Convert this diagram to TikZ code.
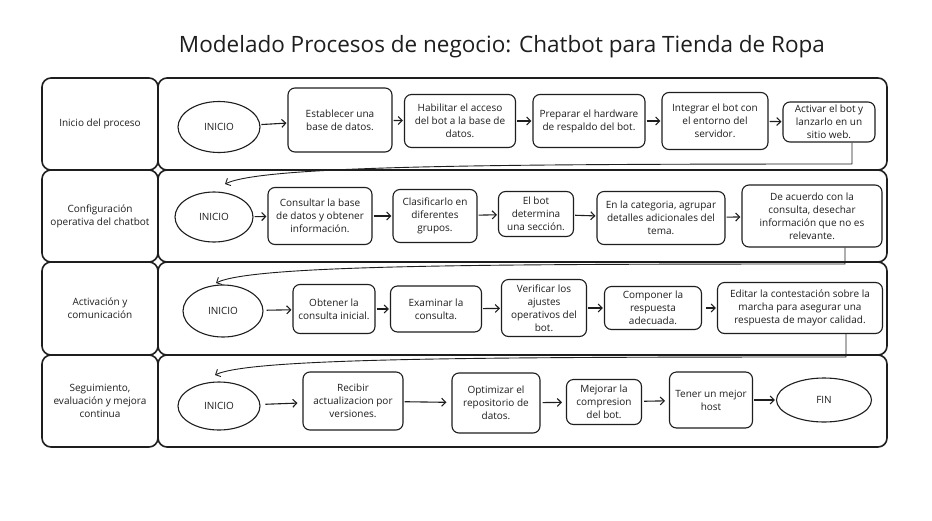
\documentclass[tikz,border=0pt]{standalone}
\usepackage{fontspec}
\setmainfont{Open Sans}
\usetikzlibrary{shapes.geometric,arrows.meta}
\definecolor{ink}{HTML}{1E1E1E}
\newcommand{\nodefont}{\fontsize{10}{13}\selectfont}
\tikzset{
  lanebox/.style={draw=ink, line width=1.6pt, rounded corners=9pt, align=center, inner sep=0pt, font=\nodefont, text=ink},
  stepbox/.style={draw=ink, line width=1.1pt, rounded corners=7pt, align=center, inner sep=0pt, font=\nodefont, text=ink},
  oval/.style={ellipse, draw=ink, line width=1.1pt, inner sep=0pt, font=\nodefont, text=ink},
  arr/.style={draw=ink, line width=1.1pt, -{Straight Barb[length=4pt,width=8pt]}, shorten >=1pt, shorten <=1pt},
  link/.style={draw=ink, line width=0.9pt, -{Straight Barb[length=4pt,width=8pt]}}
}
\begin{document}
\begin{tikzpicture}[x=1pt,y=-1pt]
\useasboundingbox[fill=white] (0,0) rectangle (932,520);
% title
\node[font=\fontsize{22.5}{26}\selectfont, text=ink] (title) at (502,47) {Modelado Procesos de negocio: Chatbot para Tienda de Ropa};
% lanes
\node[lanebox, minimum width=116, minimum height=92] (L1) at (100,124) {Inicio del proceso};
\node[lanebox, minimum width=729, minimum height=92] (R1) at (522.5,124) {};
\node[lanebox, minimum width=116, minimum height=92] (L2) at (100,216) {Configuración\\operativa del chatbot};
\node[lanebox, minimum width=729, minimum height=92] (R2) at (522.5,216) {};
\node[lanebox, minimum width=116, minimum height=93] (L3) at (100,308.5) {Activación y\\comunicación};
\node[lanebox, minimum width=729, minimum height=93] (R3) at (522.5,308.5) {};
\node[lanebox, minimum width=116, minimum height=92] (L4) at (100,401) {Seguimiento,\\evaluación y mejora\\continua};
\node[lanebox, minimum width=729, minimum height=92] (R4) at (522.5,401) {};
% lane 1
\node[oval, minimum width=82, minimum height=51] (i1) at (219,127) {INICIO};
\node[stepbox, minimum width=104, minimum height=64] (a1) at (340,120) {Establecer una\\base de datos.};
\node[stepbox, minimum width=111, minimum height=53] (a2) at (460,121) {Habilitar el acceso\\del bot a la base de\\datos.};
\node[stepbox, minimum width=112, minimum height=53] (a3) at (589,121) {Preparar el hardware\\de respaldo del bot.};
\node[stepbox, minimum width=106, minimum height=57] (a4) at (715,121) {Integrar el bot con\\el entorno del\\servidor.};
\node[stepbox, minimum width=92, minimum height=40] (a5) at (829,122) {Activar el bot y\\lanzarlo en un\\sitio web.};
% lane 2
\node[oval, minimum width=78, minimum height=50] (i2) at (214,217) {INICIO};
\node[stepbox, minimum width=104, minimum height=57] (b1) at (320,216) {Consultar la base\\de datos y obtener\\información.};
\node[stepbox, minimum width=84, minimum height=53] (b2) at (435,216) {Clasificarlo en\\diferentes\\grupos.};
\node[stepbox, minimum width=75, minimum height=45] (b3) at (536,214) {El bot\\determina\\una sección.};
\node[stepbox, minimum width=128, minimum height=53] (b4) at (661,218) {En la categoria, agrupar\\detalles adicionales del\\tema.};
\node[stepbox, minimum width=140, minimum height=62] (b5) at (812,216) {De acuerdo con la\\consulta, desechar\\información que no es\\relevante.};
% lane 3
\node[oval, minimum width=80, minimum height=52] (i3) at (223,311) {INICIO};
\node[stepbox, minimum width=82, minimum height=49] (c1) at (334,309) {Obtener la\\consulta inicial.};
\node[stepbox, minimum width=91, minimum height=46] (c2) at (436,309) {Examinar la\\consulta.};
\node[stepbox, minimum width=85, minimum height=57] (c3) at (544,308) {Verificar los\\ajustes\\operativos del\\bot.};
\node[stepbox, minimum width=97, minimum height=43] (c4) at (653,308) {Componer la\\respuesta\\adecuada.};
\node[stepbox, minimum width=165, minimum height=51] (c5) at (800,308) {Editar la contestación sobre la\\marcha para asegurar una\\respuesta de mayor calidad.};
% lane 4
\node[oval, minimum width=82, minimum height=48] (i4) at (219,406) {INICIO};
\node[stepbox, minimum width=100, minimum height=58] (d1) at (353,401) {Recibir\\actualizacion por\\versiones.};
\node[stepbox, minimum width=88, minimum height=60] (d2) at (496,403) {Optimizar el\\repositorio de\\datos.};
\node[stepbox, minimum width=75, minimum height=45] (d3) at (604,402) {Mejorar la\\compresion\\del bot.};
\node[stepbox, minimum width=83, minimum height=56] (d4) at (711,400) {Tener un mejor\\host};
\node[oval, minimum width=95, minimum height=44] (fin) at (824,400) {FIN};
% arrows lane 1
\draw[arr] (i1) -- (a1);
\draw[arr] (a1) -- (a2);
\draw[arr] (a2) -- (a3);
\draw[arr] (a3) -- (a4);
\draw[arr] (a4) -- (a5);
% arrows lane 2
\draw[arr] (i2) -- (b1);
\draw[arr] (b1) -- (b2);
\draw[arr] (b2) -- (b3);
\draw[arr] (b3) -- (b4);
\draw[arr] (b4) -- (b5);
% arrows lane 3
\draw[arr, shorten <=3pt] (i3) -- (c1);
\draw[arr] (c1) -- (c2);
\draw[arr] (c2) -- (c3);
\draw[arr] (c3) -- (c4);
\draw[arr, shorten <=4pt] (c4) -- (c5);
% arrows lane 4
\draw[arr, shorten <=5pt, shorten >=5pt] (i4) -- (d1);
\draw[arr, shorten >=5pt] (d1) -- (d2);
\draw[arr, shorten <=2pt, shorten >=4pt] (d2) -- (d3);
\draw[arr, shorten <=2pt, shorten >=4pt] (d3) -- (d4);
\draw[arr] (d4) -- (fin);
% lane-to-lane connectors
\coordinate (k1a) at (852,164);
\coordinate (k1b) at (225,184);
\draw[link] (a5.south -| k1a) -- (k1a) .. controls (480,164) and (262,166) .. (k1b);
\coordinate (k2a) at (845,264);
\coordinate (k2b) at (216,283);
\draw[link] (b5.south -| k2a) -- (k2a) .. controls (480,264) and (252,265) .. (k2b);
\coordinate (k3a) at (846,357);
\coordinate (k3b) at (215,375);
\draw[link] (c5.south -| k3a) -- (k3a) .. controls (480,357) and (250,358) .. (k3b);
\end{tikzpicture}
\end{document}
